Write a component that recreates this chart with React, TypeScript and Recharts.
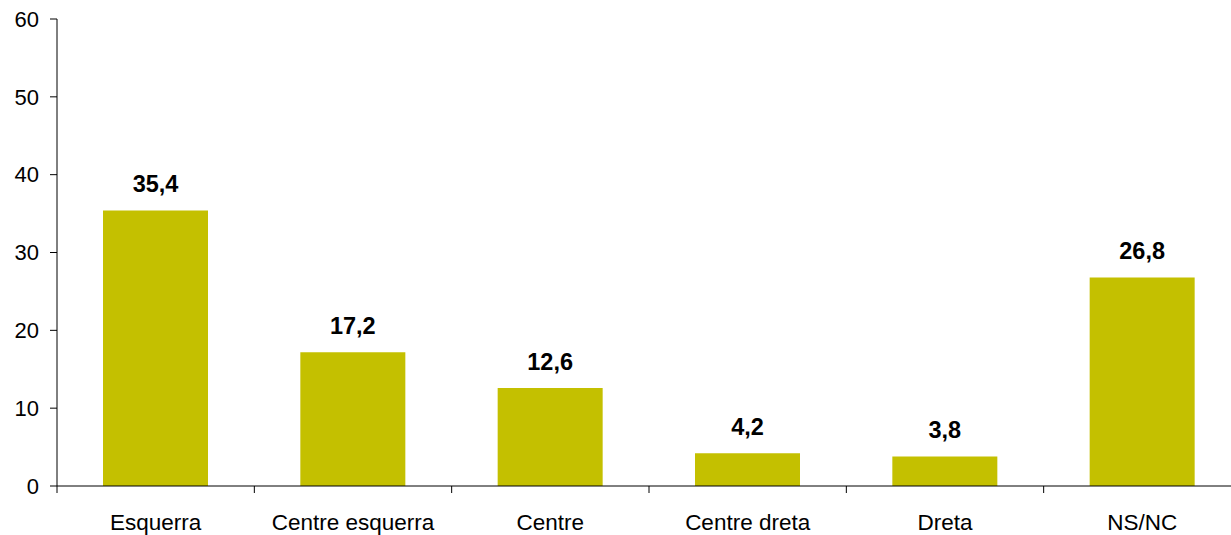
import React from "react";
import { BarChart, Bar, XAxis, YAxis, LabelList } from "recharts";

const categories = [
  "Esquerra",
  "Centre esquerra",
  "Centre",
  "Centre dreta",
  "Dreta",
  "NS/NC",
];
const values = [35.4, 17.2, 12.6, 4.2, 3.8, 26.8];
const yTicks = [0, 10, 20, 30, 40, 50, 60];

const data = categories.map((name, i) => ({ name, value: values[i] }));

const FONT = "'Liberation Sans', Arial, sans-serif";
const BAR_COLOR = "#C4C000";

// category ticks sit between bars, not under them
const CategoryTick = (props: any) => {
  const { x, y, payload, index } = props;
  const half = payload.offset || 98.7;
  const axisY = y - 9;
  return (
    <g>
      <line x1={x - half} y1={axisY} x2={x - half} y2={axisY + 7} stroke="#000" />
      {index === categories.length - 1 && (
        <line x1={x + half} y1={axisY} x2={x + half} y2={axisY + 7} stroke="#000" />
      )}
      <text
        x={x}
        y={y + 35}
        textAnchor="middle"
        fontFamily={FONT}
        fontSize={22.5}
        fill="#000"
      >
        {payload.value}
      </text>
    </g>
  );
};

const formatValue = (v: any) => String(v).replace(".", ",");

export default function App() {
  return (
    <div
      style={{
        position: "absolute",
        left: 0,
        top: 0,
        width: 1231,
        height: 535,
        overflow: "hidden",
        background: "#fff",
      }}
    >
      <BarChart
        width={1260}
        height={535}
        data={data}
        margin={{ top: 19, right: 19, bottom: 0, left: 0 }}
        barSize={105}
      >
        <YAxis
          width={57}
          domain={[0, 60]}
          ticks={yTicks}
          interval={0}
          tickSize={7}
          tickMargin={11}
          axisLine={{ stroke: "#000" }}
          tickLine={{ stroke: "#000" }}
          tick={{ fill: "#000", fontSize: 22, fontFamily: FONT }}
        />
        <XAxis
          dataKey="name"
          height={49}
          interval={0}
          tickSize={7}
          tickMargin={2}
          axisLine={{ stroke: "#000" }}
          tickLine={false}
          tick={<CategoryTick />}
        />
        <Bar dataKey="value" fill={BAR_COLOR} isAnimationActive={false}>
          <LabelList
            dataKey="value"
            position="top"
            offset={18}
            formatter={formatValue}
            fill="#000"
            fontSize={23.5}
            fontWeight="bold"
            fontFamily={FONT}
          />
        </Bar>
      </BarChart>
    </div>
  );
}
